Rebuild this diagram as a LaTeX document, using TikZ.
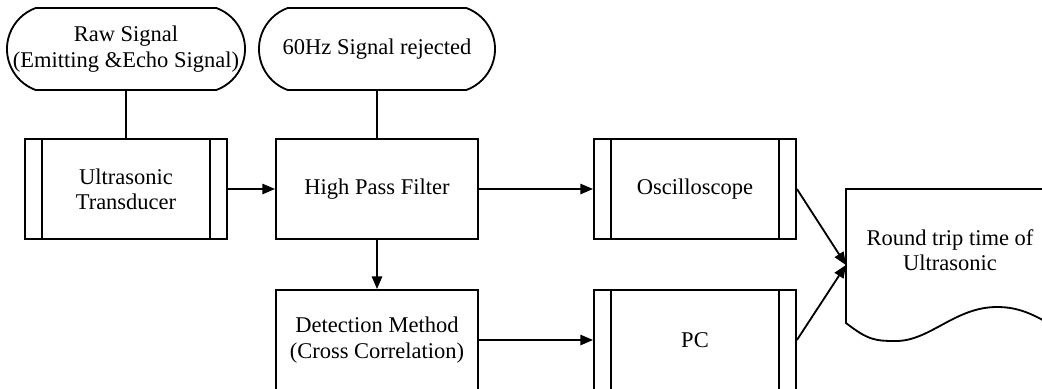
\documentclass[tikz,border=0pt]{standalone}
\usepackage{fontspec}
\setmainfont{Liberation Serif}
\usetikzlibrary{positioning, calc, arrows.meta, shapes.misc}

\begin{document}
\begin{tikzpicture}[x=0.025cm, y=-0.025cm, line width=1.3pt,
    every node/.style={font=\fontsize{16}{18}\selectfont, align=center},
    box/.style={draw, rectangle, minimum width=5.05cm, minimum height=2.5cm},
    subproc/.style={box, path picture={
        \draw ([xshift=0.42cm]path picture bounding box.north west) -- ([xshift=0.42cm]path picture bounding box.south west);
        \draw ([xshift=-0.42cm]path picture bounding box.north east) -- ([xshift=-0.42cm]path picture bounding box.south east);}},
    term/.style={draw, rounded rectangle, rounded rectangle arc length=140, minimum height=2.05cm, inner sep=0pt},
    arr/.style={-{Triangle[length=0.32cm, width=0.26cm]}}]
    \useasboundingbox (0,0) rectangle (1042,389);
    \clip (0,0) rectangle (1042,389);

    \node[term, minimum width=5.95cm, label={center:Raw Signal\\(Emitting \&Echo Signal)}] (raw) at (126,49) {};
    \node[term, minimum width=5.9cm] (rej) at (377,49) {60Hz Signal rejected};

    \node[subproc] (trans) at (126,189) {Ultrasonic\\Transducer};
    \node[box] (hpf) at (377,189) {High Pass Filter};
    \node[subproc] (osc) at (695,189) {Oscilloscope};
    \node[box] (detect) at (377,340) {Detection Method\\(Cross Correlation)};
    \node[subproc] (pc) at (695,340) {PC};

    % document shape, cut off at the right
    \draw (1060,189) -- (846,189) -- (846,323)
        .. controls (868,340) and (875,341) .. (896,341)
        .. controls (930,341) and (955,307) .. (997,307)
        .. controls (1020,307) and (1035,315) .. (1060,330);
    \coordinate (docin) at (846,265);
    \node (rtt) at (950,250) {Round trip time of\\Ultrasonic};

    \draw (raw) -- (trans);
    \draw (rej) -- (hpf);
    \foreach \a/\b in {trans/hpf, hpf/osc, hpf/detect, detect/pc}
        \draw[arr] (\a) -- (\b);
    \draw[arr] (osc.east) -- (docin);
    \draw[arr] (pc.east) -- (docin);
\end{tikzpicture}
\end{document}
